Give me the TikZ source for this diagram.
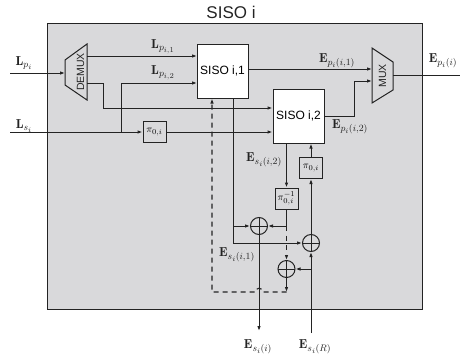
\RequirePackage{fix-cm}
\documentclass[tikz,border=0pt]{standalone}
\usepackage{fontspec}
\newfontfamily\hfont{Liberation Sans}
\usetikzlibrary{arrows.meta,calc}
\DeclareMathSizes{13}{13}{9.5}{7.5}
\DeclareMathSizes{10}{10}{7.5}{6}
\definecolor{ln}{RGB}{35,35,35}
\definecolor{boxgray}{RGB}{217,217,219}
\begin{document}
\begin{tikzpicture}[x=1pt,y=-1pt,
  wire/.style={draw=ln,line width=1pt},
  arr/.style={wire,-{Latex[length=5pt,width=3.6pt]}},
  blk/.style={draw=ln,fill=white,line width=1pt,minimum width=51pt,minimum height=54pt,inner sep=0pt,font=\hfont\fontsize{12}{14}\selectfont},
  pbox/.style={draw=ln,fill=boxgray,line width=1pt,minimum width=23pt,minimum height=21pt,inner sep=0pt,font=\fontsize{10}{12}\selectfont},
  adder/.style={draw=ln,circle,line width=1pt,minimum size=17pt,inner sep=0pt,
    path picture={\draw[ln,line width=1pt] (path picture bounding box.north) -- (path picture bounding box.south)
      (path picture bounding box.west) -- (path picture bounding box.east);}},
  lab/.style={font=\fontsize{13}{15}\selectfont,inner sep=0pt,text=ln},
  muxtxt/.style={font=\hfont\fontsize{10.5}{12}\selectfont,rotate=90,inner sep=0pt,text=ln}
]
\useasboundingbox (0,0) rectangle (460,359);
% frame
\node[draw=ln,fill=boxgray,line width=1pt,minimum width=375pt,minimum height=286pt,inner sep=0pt] (frame) at (234.5,166) {};
\node[font=\hfont\fontsize{17}{20}\selectfont,text=ln] (title) at (231,12) {SISO i};

% DEMUX and MUX
\draw[wire] (65,60) -- (87,44) -- (87,100) -- (65,85) -- cycle;
\node[muxtxt] (demux) at (80.5,72) {DEMUX};
\draw[wire] (372,48) -- (393,62) -- (393,90) -- (372,103) -- cycle;
\node[muxtxt] (mux) at (382.5,76) {MUX};
\coordinate (dmxin) at (65,73);
\coordinate (dmxo1) at (87,56);
\coordinate (dmxo2) at (87,83);
\coordinate (mxi1) at (372,69);
\coordinate (mxi2) at (372,81);
\coordinate (mxo) at (393,75);

% blocks
\node[blk] (siso1) at (222.5,71) {SISO i,1};
\node[blk] (siso2) at (298.5,116) {SISO i,2};
\node[pbox] (p1) at (154.5,132) {$\pi_{0,i}$};
\node[pbox] (p2) at (311,168) {$\pi_{0,i}$};
\node[pbox] (pinv) at (286.5,198.5) {$\pi^{-1}_{0,i}$};
\node[adder] (a1) at (259,226) {};
\node[adder] (a2) at (311,243) {};
\node[adder] (a3) at (286.5,269) {};

% terminals
\coordinate (lpin) at (10,73);
\coordinate (lsin) at (10,132);
\coordinate (out) at (460,75);
\coordinate (esi) at (259,331);
\coordinate (esr) at (311,333);
\coordinate (k1) at (103,108);
\coordinate (br) at (121,132);
\coordinate (s1in1) at (197,56);
\coordinate (s1in2) at (197,83);
\coordinate (kk) at (354,81);
\coordinate (s1b) at (233,98);
\coordinate (c1) at (286.5,292);
\coordinate (c2) at (212,292);

% connectors
\draw[arr] (lpin) -- (dmxin);
\draw[arr] (dmxo1) -- (s1in1);
\draw[arr] (dmxo2) -| (k1) -- (k1 -| siso2.west);
\draw[arr] (lsin) -- (p1);
\draw[arr] (br) |- (s1in2);
\draw[arr] (p1) -- (p1 -| siso2.west);
\draw[arr] (siso1.east |- mxi1) -- (mxi1);
\draw[arr] (siso2.east) -| (kk) -- (mxi2);
\draw[wire] (mxo) -- (out);
\draw[arr] (s1b) |- (a2);
\draw[arr] (s1b |- a1) -- (a1);
\draw[arr] (siso2.south -| pinv) -- (pinv);
\draw[arr] (pinv.south) |- (a1);
\draw[arr,dash pattern=on 5pt off 4.5pt,dash phase=0pt] (pinv |- a1) -- (a3);
\draw[arr] (a2) -- (p2);
\draw[arr] (p2) -- (p2 |- siso2.south);
\draw[arr] (esr) -- (a2);
\draw[arr] (esr |- a3) -- (a3);
\draw[arr] (a1) -- (esi);
\draw[arr] (a3) -- (c1);
\draw[arr,line width=1.1pt,dash pattern=on 5pt off 4pt] (c1) -- (262.5,292) .. controls (262.5,287) and (255.5,287) .. (255.5,292) -- (c2) -- (c2 |- siso1.south);

% labels
\node[lab] (llp) at (24,63) {$\mathbf{L}_{p_i}$};
\node[lab] (lls) at (24,126) {$\mathbf{L}_{s_i}$};
\node[lab] (llp1) at (163,47) {$\mathbf{L}_{p_{i,1}}$};
\node[lab] (llp2) at (163,73) {$\mathbf{L}_{p_{i,2}}$};
\node[lab] (le1) at (337,61) {$\mathbf{E}_{p_i(i,1)}$};
\node[lab] (le2) at (350,127) {$\mathbf{E}_{p_i(i,2)}$};
\node[lab] (leo) at (443,61) {$\mathbf{E}_{p_i(i)}$};
\node[lab] (les2) at (264,160) {$\mathbf{E}_{s_i(i,2)}$};
\node[lab] (les1) at (237,255) {$\mathbf{E}_{s_i(i,1)}$};
\node[lab] (lesi) at (258,347) {$\mathbf{E}_{s_i(i)}$};
\node[lab] (lesr) at (315,347) {$\mathbf{E}_{s_i(R)}$};
\end{tikzpicture}
\end{document}
